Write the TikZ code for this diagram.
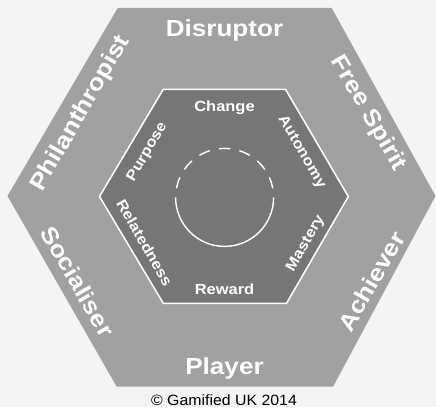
\documentclass[tikz,border=0pt]{standalone}
\usepackage{fontspec}
\setmainfont{Liberation Sans}
\newfontfamily\lblfont[FakeStretch=1.12]{Liberation Sans}
\newfontfamily\copyfont[FakeStretch=1.065]{Liberation Sans}
\usetikzlibrary{calc}
\definecolor{bgcol}{HTML}{F4F4F4}
\definecolor{outercol}{HTML}{A1A1A1}
\definecolor{innercol}{HTML}{767676}
\begin{document}
\begin{tikzpicture}[x=1bp,y=1bp,
  outerlbl/.style={text=white, font=\lblfont\bfseries\fontsize{23.3bp}{28bp}\selectfont, anchor=base, inner sep=0pt},
  innerlbl/.style={text=white, font=\lblfont\bfseries\fontsize{14.7bp}{18bp}\selectfont, anchor=base, inner sep=0pt},
  ringline/.style={white, line width=1.4bp}]
\fill[bgcol] (0,0) rectangle (436,407);
\useasboundingbox (0,0) rectangle (436,407);
\coordinate (C) at (224.5,210.5);
% outer hexagon
\fill[outercol] (117.7,399) -- (331.7,399) -- (435.5,211) -- (333,20.3) -- (116.7,20.3) -- (7.5,211) -- cycle;
% inner hexagon
\filldraw[fill=innercol, draw=white, line width=1.5bp] (163.3,317.7) -- (285.5,317.7) -- (348.3,210.5) -- (286.5,103.7) -- (163.3,103.7) -- (99.5,210.5) -- cycle;
% circle
\coordinate (O) at (224.6,209.6);
\draw[ringline] ($(O)+(180:49)$) arc[start angle=180, end angle=360, radius=49];
\draw[ringline, dash pattern=on 11.5bp off 9.2bp, dash phase=11.6bp] ($(O)+(180:49)$) arc[start angle=180, end angle=0, radius=49];
% outer labels
\node[outerlbl] (disruptor) at ($(C)+(90:160)$) {Disruptor};
\node[outerlbl, rotate=-60] (freespirit) at ($(C)+(30:160)$) {Free Spirit};
\node[outerlbl, rotate=60] (achiever) at ($(C)+(-30:178)$) {Achiever};
\node[outerlbl] (player) at ($(C)+(-90:178)$) {Player};
\node[outerlbl, rotate=-60] (socialiser) at ($(C)+(210:178)$) {Socialiser};
\node[outerlbl, rotate=60] (philanthropist) at ($(C)+(150:160)$) {Philanthropist};
% inner labels
\node[innerlbl] (change) at ($(C)+(90:85.5)$) {Change};
\node[innerlbl, rotate=-60] (autonomy) at ($(C)+(30:85.5)$) {Autonomy};
\node[innerlbl, rotate=60] (mastery) at ($(C)+(-30:97.5)$) {Mastery};
\node[innerlbl] (reward) at ($(C)+(-90:97.5)$) {Reward};
\node[innerlbl, rotate=-60] (relatedness) at ($(C)+(210:97.5)$) {Relatedness};
\node[innerlbl, rotate=60] (purpose) at ($(C)+(150:85.5)$) {Purpose};
% copyright
\node[text=black, font=\copyfont\fontsize{14.9bp}{18bp}\selectfont, anchor=base, inner sep=0pt] (copyright) at (224,2) {© Gamified UK 2014};
\end{tikzpicture}
\end{document}
